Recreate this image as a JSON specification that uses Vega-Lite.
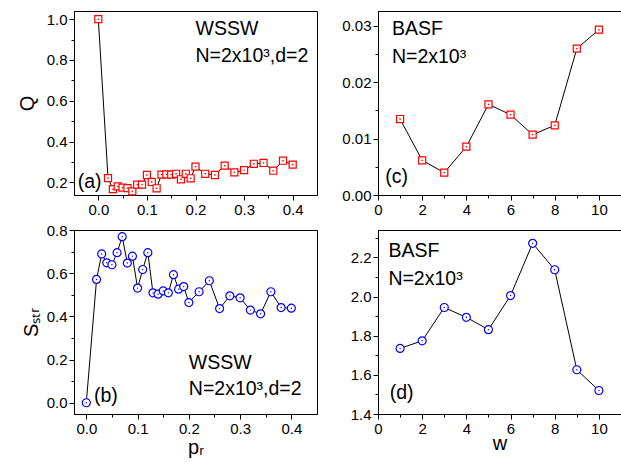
{
  "$schema": "https://vega.github.io/schema/vega-lite/v6.json",
  "padding": {"left": 16, "top": 10, "right": 1, "bottom": 0},
  "autosize": {"type": "pad"},
  "background": "white",
  "config": {
    "view": {"stroke": "black", "strokeWidth": 1},
    "axis": {
      "grid": false,
      "domainColor": "black",
      "tickColor": "black",
      "labelColor": "black",
      "titleColor": "black",
      "labelFont": "Liberation Sans",
      "labelFontSize": 15,
      "titleFont": "Liberation Sans",
      "titleFontSize": 20,
      "titleFontWeight": "normal",
      "labelOverlap": false,
      "labelFlush": false,
      "labelPadding": 2
    }
  },
  "datasets": {
    "wssw": [
      {"pr": 0.00, "Q": 1.000, "S": 0.000},
      {"pr": 0.02, "Q": 0.221, "S": 0.571},
      {"pr": 0.03, "Q": 0.167, "S": 0.689},
      {"pr": 0.04, "Q": 0.180, "S": 0.648},
      {"pr": 0.05, "Q": 0.174, "S": 0.639},
      {"pr": 0.06, "Q": 0.172, "S": 0.695},
      {"pr": 0.07, "Q": 0.156, "S": 0.769},
      {"pr": 0.08, "Q": 0.189, "S": 0.647},
      {"pr": 0.09, "Q": 0.189, "S": 0.679},
      {"pr": 0.10, "Q": 0.236, "S": 0.531},
      {"pr": 0.11, "Q": 0.202, "S": 0.617},
      {"pr": 0.12, "Q": 0.171, "S": 0.695},
      {"pr": 0.13, "Q": 0.238, "S": 0.509},
      {"pr": 0.14, "Q": 0.239, "S": 0.503},
      {"pr": 0.15, "Q": 0.238, "S": 0.518},
      {"pr": 0.16, "Q": 0.242, "S": 0.509},
      {"pr": 0.17, "Q": 0.215, "S": 0.593},
      {"pr": 0.18, "Q": 0.242, "S": 0.526},
      {"pr": 0.19, "Q": 0.220, "S": 0.538},
      {"pr": 0.20, "Q": 0.277, "S": 0.464},
      {"pr": 0.22, "Q": 0.242, "S": 0.514},
      {"pr": 0.24, "Q": 0.236, "S": 0.565},
      {"pr": 0.26, "Q": 0.282, "S": 0.436},
      {"pr": 0.28, "Q": 0.249, "S": 0.495},
      {"pr": 0.30, "Q": 0.260, "S": 0.486},
      {"pr": 0.32, "Q": 0.291, "S": 0.429},
      {"pr": 0.34, "Q": 0.295, "S": 0.412},
      {"pr": 0.36, "Q": 0.257, "S": 0.514},
      {"pr": 0.38, "Q": 0.306, "S": 0.441},
      {"pr": 0.40, "Q": 0.287, "S": 0.438}
    ],
    "basf": [
      {"w": 1, "Q": 0.01346, "S": 1.735},
      {"w": 2, "Q": 0.00614, "S": 1.774},
      {"w": 3, "Q": 0.00396, "S": 1.944},
      {"w": 4, "Q": 0.00856, "S": 1.894},
      {"w": 5, "Q": 0.01606, "S": 1.831},
      {"w": 6, "Q": 0.01423, "S": 2.005},
      {"w": 7, "Q": 0.01069, "S": 2.272},
      {"w": 8, "Q": 0.01234, "S": 2.137},
      {"w": 9, "Q": 0.02593, "S": 1.626},
      {"w": 10, "Q": 0.02929, "S": 1.520}
    ],
    "ta": [
      {"pr": 0.2, "Q": 0.951, "t": "WSSW"},
      {"pr": 0.2, "Q": 0.819, "t": "N=2x10³,d=2"},
      {"pr": -0.0425, "Q": 0.2, "t": "(a)"}
    ],
    "tb": [
      {"pr": 0.2, "S": 0.186, "t": "WSSW"},
      {"pr": 0.2, "S": 0.062, "t": "N=2x10³,d=2"},
      {"pr": 0.015, "S": 0.031, "t": "(b)"}
    ],
    "tc": [
      {"w": 0.63, "Q": 0.0294, "t": "BASF"},
      {"w": 0.63, "Q": 0.0245, "t": "N=2x10³"},
      {"w": 0.33, "Q": 0.00324, "t": "(c)"}
    ],
    "td": [
      {"w": 0.47, "S": 2.231, "t": "BASF"},
      {"w": 0.47, "S": 2.089, "t": "N=2x10³"},
      {"w": 0.53, "S": 1.508, "t": "(d)"}
    ]
  },
  "columns": 2,
  "bounds": "flush",
  "spacing": {"row": 35, "column": 61},
  "concat": [
    {
      "width": 243, "height": 184,
      "data": {"name": "wssw"},
      "encoding": {
        "x": {"field": "pr", "type": "quantitative",
          "scale": {"domain": [-0.05, 0.45], "nice": false, "zero": false},
          "axis": {"title": null, "values": [0, 0.05, 0.1, 0.15, 0.2, 0.25, 0.3, 0.35, 0.4],
            "labelExpr": "round(datum.value*100)%10===0 ? format(datum.value,'.1f') : ''",
            "tickSize": {"condition": {"test": "round(datum.value*100)%10===0", "value": 5}, "value": 3}}},
        "y": {"field": "Q", "type": "quantitative",
          "scale": {"domain": [0.138, 1.04], "nice": false, "zero": false},
          "axis": {"title": "Q", "titleX": -41, "titleY": 92, "titleBaseline": "alphabetic", "titleAlign": "center", "titleAngle": 270,
            "values": [0.2, 0.3, 0.4, 0.5, 0.6, 0.7, 0.8, 0.9, 1.0],
            "labelExpr": "round(datum.value*10)%2===0 ? format(datum.value,'.1f') : ''",
            "tickSize": {"condition": {"test": "round(datum.value*10)%2===0", "value": 5}, "value": 3}}}
      },
      "layer": [
        {"mark": {"type": "line", "color": "black", "strokeWidth": 1}, "encoding": {}},
        {"mark": {"type": "point", "shape": "square", "filled": true, "fill": "white", "stroke": "#ff0000", "strokeWidth": 1.2, "size": 50, "opacity": 1}},
        {"mark": {"type": "point", "shape": "square", "filled": true, "color": "#ff0000", "size": 2, "opacity": 1}},
        {"data": {"name": "ta"}, "mark": {"type": "text", "align": "left", "baseline": "middle", "fontSize": 19.5, "font": "Liberation Sans", "color": "black"}, "encoding": {"text": {"field": "t"}}}
      ]
    },
    {
      "width": 243, "height": 184,
      "data": {"name": "basf"},
      "encoding": {
        "x": {"field": "w", "type": "quantitative",
          "scale": {"domain": [0, 11], "nice": false, "zero": false},
          "axis": {"title": null, "values": [0, 1, 2, 3, 4, 5, 6, 7, 8, 9, 10],
            "labelExpr": "datum.value%2===0 ? format(datum.value,'d') : ''",
            "tickSize": {"condition": {"test": "datum.value%2===0", "value": 5}, "value": 3}}},
        "y": {"field": "Q", "type": "quantitative",
          "scale": {"domain": [0, 0.0326], "nice": false, "zero": false},
          "axis": {"title": null, "values": [0, 0.005, 0.01, 0.015, 0.02, 0.025, 0.03],
            "labelExpr": "round(datum.value*1000)%10===0 ? format(datum.value,'.2f') : ''",
            "tickSize": {"condition": {"test": "round(datum.value*1000)%10===0", "value": 5}, "value": 3}}}
      },
      "layer": [
        {"mark": {"type": "line", "color": "black", "strokeWidth": 1}, "encoding": {}},
        {"mark": {"type": "point", "shape": "square", "filled": true, "fill": "white", "stroke": "#ff0000", "strokeWidth": 1.2, "size": 50, "opacity": 1}},
        {"mark": {"type": "point", "shape": "square", "filled": true, "color": "#ff0000", "size": 2, "opacity": 1}},
        {"data": {"name": "tc"}, "mark": {"type": "text", "align": "left", "baseline": "middle", "fontSize": 19.5, "font": "Liberation Sans", "color": "black"}, "encoding": {"text": {"field": "t"}}}
      ]
    },
    {
      "width": 243, "height": 184,
      "data": {"name": "wssw"},
      "encoding": {
        "x": {"field": "pr", "type": "quantitative",
          "scale": {"domain": [-0.024, 0.45], "nice": false, "zero": false},
          "axis": {"title": "pᵣ", "titlePadding": 1, "values": [0, 0.05, 0.1, 0.15, 0.2, 0.25, 0.3, 0.35, 0.4],
            "labelExpr": "round(datum.value*100)%10===0 ? format(datum.value,'.1f') : ''",
            "tickSize": {"condition": {"test": "round(datum.value*100)%10===0", "value": 5}, "value": 3}}},
        "y": {"field": "S", "type": "quantitative",
          "scale": {"domain": [-0.052, 0.8], "nice": false, "zero": false},
          "axis": {"title": "Sₛₜᵣ", "titleX": -37, "titleY": 92, "titleBaseline": "alphabetic", "titleAlign": "center", "titleAngle": 270,
            "values": [0, 0.1, 0.2, 0.3, 0.4, 0.5, 0.6, 0.7, 0.8],
            "labelExpr": "round(datum.value*10)%2===0 ? format(datum.value,'.1f') : ''",
            "tickSize": {"condition": {"test": "round(datum.value*10)%2===0", "value": 5}, "value": 3}}}
      },
      "layer": [
        {"mark": {"type": "line", "color": "black", "strokeWidth": 1}, "encoding": {}},
        {"mark": {"type": "point", "shape": "circle", "filled": true, "fill": "white", "stroke": "#0000ff", "strokeWidth": 1.2, "size": 64, "opacity": 1}},
        {"mark": {"type": "point", "shape": "circle", "filled": true, "color": "#0000ff", "size": 2, "opacity": 1}},
        {"data": {"name": "tb"}, "mark": {"type": "text", "align": "left", "baseline": "middle", "fontSize": 19.5, "font": "Liberation Sans", "color": "black"}, "encoding": {"text": {"field": "t"}}}
      ]
    },
    {
      "width": 243, "height": 184,
      "data": {"name": "basf"},
      "encoding": {
        "x": {"field": "w", "type": "quantitative",
          "scale": {"domain": [0, 11], "nice": false, "zero": false},
          "axis": {"title": "w", "titlePadding": -3, "values": [0, 1, 2, 3, 4, 5, 6, 7, 8, 9, 10],
            "labelExpr": "datum.value%2===0 ? format(datum.value,'d') : ''",
            "tickSize": {"condition": {"test": "datum.value%2===0", "value": 5}, "value": 3}}},
        "y": {"field": "S", "type": "quantitative",
          "scale": {"domain": [1.4, 2.34], "nice": false, "zero": false},
          "axis": {"title": null, "values": [1.4, 1.5, 1.6, 1.7, 1.8, 1.9, 2.0, 2.1, 2.2, 2.3],
            "labelExpr": "round(datum.value*10)%2===0 ? format(datum.value,'.1f') : ''",
            "tickSize": {"condition": {"test": "round(datum.value*10)%2===0", "value": 5}, "value": 3}}}
      },
      "layer": [
        {"mark": {"type": "line", "color": "black", "strokeWidth": 1}, "encoding": {}},
        {"mark": {"type": "point", "shape": "circle", "filled": true, "fill": "white", "stroke": "#0000ff", "strokeWidth": 1.2, "size": 64, "opacity": 1}},
        {"mark": {"type": "point", "shape": "circle", "filled": true, "color": "#0000ff", "size": 2, "opacity": 1}},
        {"data": {"name": "td"}, "mark": {"type": "text", "align": "left", "baseline": "middle", "fontSize": 19.5, "font": "Liberation Sans", "color": "black"}, "encoding": {"text": {"field": "t"}}}
      ]
    }
  ]
}
